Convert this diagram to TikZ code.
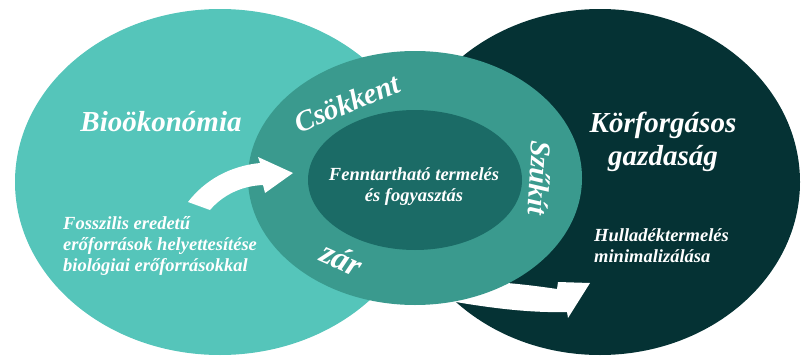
\documentclass[tikz,border=0pt]{standalone}
\usepackage{fontspec}
\setmainfont{Liberation Serif}
\usetikzlibrary{shapes.geometric}
\definecolor{bioC}{HTML}{55C5BA}
\definecolor{korC}{HTML}{053234}
\definecolor{ringC}{HTML}{3A9A8E}
\definecolor{innerC}{HTML}{1B6B66}
\begin{document}
\begin{tikzpicture}[x=1pt,y=-1pt,
  lbl/.style={text=white,font=\bfseries\itshape,inner sep=0pt},
  bigtxt/.style={lbl,font=\bfseries\itshape\fontsize{29}{33}\selectfont},
  smalltxt/.style={lbl,font=\bfseries\itshape\fontsize{18.5}{21}\selectfont},
  ringtxt/.style={lbl,font=\bfseries\itshape\fontsize{29}{33}\selectfont},
  arrowfill/.style={fill=white,draw=none}]
\useasboundingbox (0,0) rectangle (801,356);
% big ellipses
\fill[bioC] (220,182) ellipse [x radius=205,y radius=173];
\fill[korC] (600,182) ellipse [x radius=200,y radius=173];
% bottom arrow (under ring)
\fill[arrowfill] (440,280) .. controls (490,280) and (530,285) .. (557,289)
  -- (558,282) -- (590,283) -- (568,318) -- (567,312)
  .. controls (530,313) and (490,308) .. (450,301) -- (440,300) -- cycle;
% ring and inner
\node[ellipse,fill=ringC,minimum width=334pt,minimum height=254pt,inner sep=0pt] (ring) at (415,178) {};
\node[ellipse,fill=innerC,minimum width=214pt,minimum height=140pt,inner sep=0pt] (inner) at (415,180) {};
% left arrow (over ring)
\fill[arrowfill] (188,202) .. controls (205,180) and (230,166) .. (260,163)
  -- (258,157) -- (293,173) -- (265,193) -- (263,185)
  .. controls (240,186) and (222,196) .. (210,210) -- cycle;
% texts
\node[bigtxt] (bio) at (161,122) {Bioökonómia};
\node[bigtxt,align=center] (kor) at (663,142) {Körforgásos\\gazdaság};
\node[smalltxt,align=left,anchor=west] (foss) at (63,246) {Fosszilis eredetű\\erőforrások helyettesítése\\biológiai erőforrásokkal};
\node[smalltxt,align=left,anchor=west] (hull) at (594,246) {Hulladéktermelés\\minimalizálása};
\node[smalltxt,align=center] (fenn) at (414,187) {Fenntartható termelés\\és fogyasztás};
\node[ringtxt,rotate=22] (csok) at (347,103) {Csökkent};
\node[ringtxt,rotate=-93] (szuk) at (540,178) {Szűkít};
\node[ringtxt,font=\bfseries\itshape\fontsize{33}{36}\selectfont,rotate=-24] (zar) at (342,259) {zár};
\end{tikzpicture}
\end{document}
